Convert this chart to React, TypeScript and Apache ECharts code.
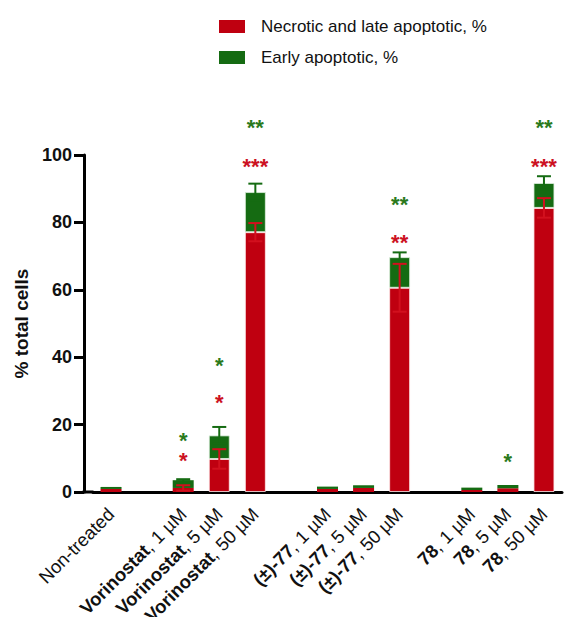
import React, { useEffect, useRef } from "react";
import * as echarts from "echarts";

const categories = [
  "Non-treated", "",
  "Vorinostat, 1 µM", "Vorinostat, 5 µM", "Vorinostat, 50 µM", "",
  "(±)-77, 1 µM", "(±)-77, 5 µM", "(±)-77, 50 µM", "",
  "78, 1 µM", "78, 5 µM", "78, 50 µM",
];
const necrotic = [0.9, null, 1.2, 9.8, 77.1, null, 0.9, 1.2, 60.6, null, 0.6, 1.1, 84.3];
const necroticErr = [0, null, 0.8, 2.9, 2.7, null, 0, 0, 7.1, null, 0, 0, 2.9];
const early = [0.6, null, 2.3, 7.0, 11.9, null, 0.7, 0.8, 9.1, null, 0.7, 1.0, 7.4];
const earlyErr = [0, null, 0.3, 2.5, 2.5, null, 0, 0, 1.4, null, 0, 0, 2.0];
const redStars: [number, number, string][] = [
  [2, 10.4, "*"], [3, 27.6, "*"], [4, 97.8, "***"], [8, 75.3, "**"], [12, 97.8, "***"],
];
const greenStars: [number, number, string][] = [
  [2, 16.5, "*"], [3, 38.7, "*"], [4, 109.4, "**"], [8, 86.4, "**"], [11, 10.3, "*"], [12, 109.4, "**"],
];
const yTicks = { min: 0, max: 100, interval: 20 };

const RED = "#bf0010";
const GREEN = "#156b12";
const RED_STAR = "#cc1122";
const GREEN_STAR = "#2a7a1c";
const FONT = "'Liberation Sans', Arial, sans-serif";

export default function App() {
  const ref = useRef<HTMLDivElement>(null);
  useEffect(() => {
    document.body.style.margin = "0";
    const chart = echarts.init(ref.current!, undefined, { renderer: "svg" });

    const redErrData = necrotic
      .map((v, i) => [i, v, necroticErr[i]])
      .filter((d) => d[1] != null && (d[2] as number) > 0);
    const greenErrData = early
      .map((v, i) => [i, v == null ? null : (necrotic[i] as number) + v, earlyErr[i]])
      .filter((d) => d[1] != null && (d[2] as number) > 0);

    const barData = (arr: (number | null)[], border: string) =>
      arr.map((v) =>
        v == null
          ? null
          : {
              value: v,
              itemStyle: { borderColor: border, borderWidth: v > 3 ? 1 : 0 },
            }
      );

    const errRender = (color: string) => (params: any, api: any) => {
      const x = api.value(0);
      const top = api.value(1);
      const err = api.value(2);
      const p1 = api.coord([x, top + err]);
      const p2 = api.coord([x, top - err]);
      const hw = 7;
      const style = { stroke: color, lineWidth: 2 };
      return {
        type: "group",
        children: [
          { type: "line", shape: { x1: p1[0], y1: p1[1], x2: p2[0], y2: p2[1] }, style },
          { type: "line", shape: { x1: p1[0] - hw, y1: p1[1], x2: p1[0] + hw, y2: p1[1] }, style },
          { type: "line", shape: { x1: p2[0] - hw, y1: p2[1], x2: p2[0] + hw, y2: p2[1] }, style },
        ],
      };
    };

    const starRender = (arr: [number, number, string][], color: string) => (params: any, api: any) => {
      const d = arr[params.dataIndex];
      const p = api.coord([d[0], d[1]]);
      return {
        type: "text",
        x: p[0],
        y: p[1] + 4,
        style: {
          text: d[2],
          fill: color,
          font: `bold 22px ${FONT}`,
          align: "center",
          verticalAlign: "middle",
        },
      };
    };

    chart.setOption({
      animation: false,
      textStyle: { fontFamily: FONT },
      legend: {
        data: ["Necrotic and late apoptotic, %", "Early apoptotic, %"],
        orient: "vertical",
        left: 214,
        top: 13,
        itemWidth: 26,
        itemHeight: 13,
        itemGap: 14,
        icon: "rect",
        textStyle: { fontSize: 17, color: "#111", fontFamily: FONT, padding: [0, 0, 0, 11] },
      },
      grid: { left: 93, right: 4, top: 155, bottom: 125, containLabel: false, outerBoundsMode: "none" },
      xAxis: {
        type: "category",
        data: categories,
        axisLine: { lineStyle: { color: "#000", width: 3 } },
        axisTick: { alignWithLabel: true, length: 7, lineStyle: { color: "#000", width: 3 } },
        axisLabel: {
          interval: 0,
          rotate: 45,
          margin: 19,
          color: "#111",
          fontSize: 18,
          formatter: (v: string) => {
            const i = v.indexOf(", ");
            if (i < 0) return `{r|${v}}`;
            return `{b|${v.slice(0, i)}}{r|${v.slice(i)}}`;
          },
          rich: {
            r: { fontSize: 18.5, fontFamily: FONT, color: "#111" },
            b: { fontSize: 18.5, fontFamily: FONT, fontWeight: "bold", color: "#111" },
          },
        },
      },
      yAxis: {
        type: "value",
        min: yTicks.min,
        max: yTicks.max,
        interval: yTicks.interval,
        offset: 9,
        name: "% total cells",
        nameLocation: "middle",
        nameGap: 53,
        nameTextStyle: { fontSize: 19, fontWeight: "bold", color: "#111", fontFamily: FONT },
        axisLine: { show: true, lineStyle: { color: "#000", width: 3 } },
        axisTick: { show: true, length: 10, lineStyle: { color: "#000", width: 3 } },
        axisLabel: { fontSize: 18, fontWeight: "bold", color: "#111", margin: 12 },
        splitLine: { show: false },
      },
      graphic: [
        { type: "rect", shape: { x: 82.5, y: 490.5, width: 11, height: 3 }, style: { fill: "#000" } },
      ],
      series: [
        {
          name: "Necrotic and late apoptotic, %",
          type: "bar",
          stack: "s",
          barWidth: 21,
          data: barData(necrotic, "rgba(255,235,235,0.8)"),
          itemStyle: { color: RED },
        },
        {
          name: "Early apoptotic, %",
          type: "bar",
          stack: "s",
          barWidth: 21,
          data: barData(early, "rgba(225,240,225,0.8)"),
          itemStyle: { color: GREEN },
        },
        {
          type: "custom",
          name: "gerr",
          data: greenErrData,
          renderItem: errRender(GREEN),
          z: 3,
        },
        {
          type: "custom",
          name: "rerr",
          data: redErrData,
          renderItem: errRender("#d2101e"),
          z: 4,
        },
        {
          type: "custom",
          name: "rstars",
          data: redStars.map((d) => [d[0], d[1]]),
          renderItem: starRender(redStars, RED_STAR),
          clip: false,
          z: 5,
        },
        {
          type: "custom",
          name: "gstars",
          data: greenStars.map((d) => [d[0], d[1]]),
          renderItem: starRender(greenStars, GREEN_STAR),
          clip: false,
          z: 5,
        },
      ],
    });
    return () => chart.dispose();
  }, []);
  return <div ref={ref} style={{ width: 566, height: 617 }} />;
}
